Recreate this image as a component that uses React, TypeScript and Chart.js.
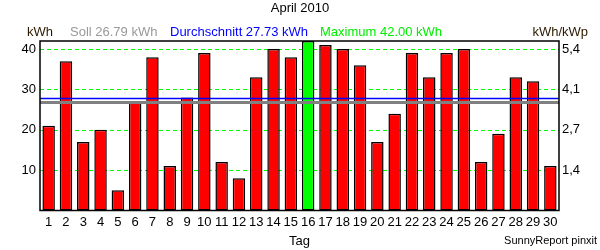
import React, { useEffect, useRef } from "react";
import { Chart, registerables } from "chart.js";

Chart.register(...registerables);

const dayLabels = [
  "1", "2", "3", "4", "5", "6", "7", "8", "9", "10",
  "11", "12", "13", "14", "15", "16", "17", "18", "19", "20",
  "21", "22", "23", "24", "25", "26", "27", "28", "29", "30",
];
const dailyKWh = [
  21, 37, 17, 20, 5, 27, 38, 11, 28, 39,
  12, 8, 33, 40, 38, 42, 41, 40, 36, 17,
  24, 39, 33, 39, 40, 12, 19, 33, 32, 11,
];
const leftTickValues = [10, 20, 30, 40];
const rightTickLabels = ["1,4", "2,7", "4,1", "5,4"];
const sollKWh = 26.79;
const averageKWh = 27.73;
const maximumKWh = 42.0;
const titleText = "April 2010";
const xTitle = "Tag";
const footerText = "SunnyReport pinxit";

const FONT_FAMILY = "'Liberation Sans', Arial, sans-serif";
const font13 = { family: FONT_FAMILY, size: 13 };

const overlayPlugin = {
  id: "overlay",
  beforeDatasetsDraw(chart: any) {
    const { ctx, chartArea: a, scales } = chart;
    const y = scales.y;
    ctx.save();
    ctx.strokeStyle = "#00ff00";
    ctx.lineWidth = 1;
    ctx.setLineDash([4, 3]);
    y.ticks.forEach((t: any) => {
      const py = Math.round(y.getPixelForValue(t.value)) + 0.5;
      ctx.beginPath();
      ctx.moveTo(a.left, py);
      ctx.lineTo(a.right, py);
      ctx.stroke();
    });
    ctx.restore();
  },
  afterDatasetsDraw(chart: any) {
    const { ctx, chartArea: a, scales } = chart;
    const y = scales.y;
    ctx.save();
    const hLine = (v: number, color: string, w: number) => {
      const py = y.getPixelForValue(v);
      ctx.beginPath();
      ctx.strokeStyle = color;
      ctx.lineWidth = w;
      ctx.moveTo(a.left, py);
      ctx.lineTo(a.right, py);
      ctx.stroke();
    };
    hLine(sollKWh, "#808080", 3);
    hLine(averageKWh, "#0000ff", 1.5);
    ctx.strokeStyle = "#000";
    ctx.lineWidth = 1.5;
    ctx.strokeRect(a.left, a.top, a.right - a.left, a.bottom - a.top);
    ctx.restore();
  },
  afterDraw(chart: any) {
    const { ctx } = chart;
    ctx.save();
    ctx.textBaseline = "middle";
    ctx.font = `13px ${FONT_FAMILY}`;
    ctx.fillStyle = "#000";
    ctx.textAlign = "center";
    ctx.fillText(titleText, 300, 8);
    ctx.textAlign = "left";
    ctx.fillStyle = "#2a1800";
    ctx.fillText("kWh", 27, 32);
    ctx.fillStyle = "#999999";
    ctx.fillText(`Soll ${sollKWh.toFixed(2)} kWh`, 70, 32);
    ctx.fillStyle = "#0000ff";
    ctx.fillText(`Durchschnitt ${averageKWh.toFixed(2)} kWh`, 170, 32);
    ctx.fillStyle = "#00ee00";
    ctx.fillText(`Maximum ${maximumKWh.toFixed(2)} kWh`, 320, 32);
    ctx.textAlign = "right";
    ctx.fillStyle = "#2a1800";
    ctx.fillText("kWh/kWp", 588, 32);
    ctx.fillStyle = "#000";
    ctx.font = `11px ${FONT_FAMILY}`;
    ctx.fillText(footerText, 597, 241);
    ctx.restore();
  },
};

export default function App() {
  const canvasRef = useRef<HTMLCanvasElement | null>(null);

  useEffect(() => {
    if (!canvasRef.current) return;
    const maxVal = Math.max(...dailyKWh);
    const colors = dailyKWh.map((v) => (v === maxVal ? "#00ff00" : "#ff0000"));
    const chart = new Chart(canvasRef.current, {
      type: "bar",
      data: {
        labels: dayLabels,
        datasets: [
          {
            data: dailyKWh,
            backgroundColor: colors,
            borderColor: "#000",
            borderWidth: 1.5,
            borderSkipped: false,
            barPercentage: 0.72,
            categoryPercentage: 1,
          },
        ],
      },
      options: {
        animation: false,
        responsive: false,
        layout: { padding: { top: 41, left: 0, right: 0, bottom: 0 } },
        plugins: {
          legend: { display: false },
          tooltip: { enabled: false },
          title: { display: false },
        },
        scales: {
          x: {
            grid: { display: false, drawTicks: false },
            border: { display: false },
            ticks: {
              color: "#000",
              font: font13,
              padding: 4,
              maxRotation: 0,
              autoSkip: false,
            },
            title: {
              display: true,
              text: xTitle,
              color: "#000",
              font: font13,
              padding: { top: 0, bottom: 1.2 },
            },
            afterFit: (s: any) => {
              s.height = 39.5;
            },
          },
          y: {
            position: "left",
            min: 0,
            max: 42,
            afterBuildTicks: (s: any) => {
              s.ticks = leftTickValues.map((v) => ({ value: v }));
            },
            grid: { display: false, drawTicks: false },
            border: { display: false },
            ticks: { color: "#000", font: font13, padding: 4 },
            afterFit: (s: any) => {
              s.width = 40;
            },
          },
          y2: {
            position: "right",
            min: 0,
            max: 42,
            afterBuildTicks: (s: any) => {
              s.ticks = leftTickValues.map((v) => ({ value: v }));
            },
            grid: { display: false, drawTicks: false },
            border: { display: false },
            ticks: {
              color: "#000",
              font: font13,
              padding: 3,
              callback: (_v: any, i: number) => rightTickLabels[i],
            },
            afterFit: (s: any) => {
              s.width = 41;
            },
          },
        },
      } as any,
      plugins: [overlayPlugin],
    });
    return () => chart.destroy();
  }, []);

  return (
    <div style={{ position: "absolute", left: 0, top: 0, width: 600, height: 250 }}>
      <canvas ref={canvasRef} width={600} height={250} style={{ width: 600, height: 250 }} />
    </div>
  );
}
